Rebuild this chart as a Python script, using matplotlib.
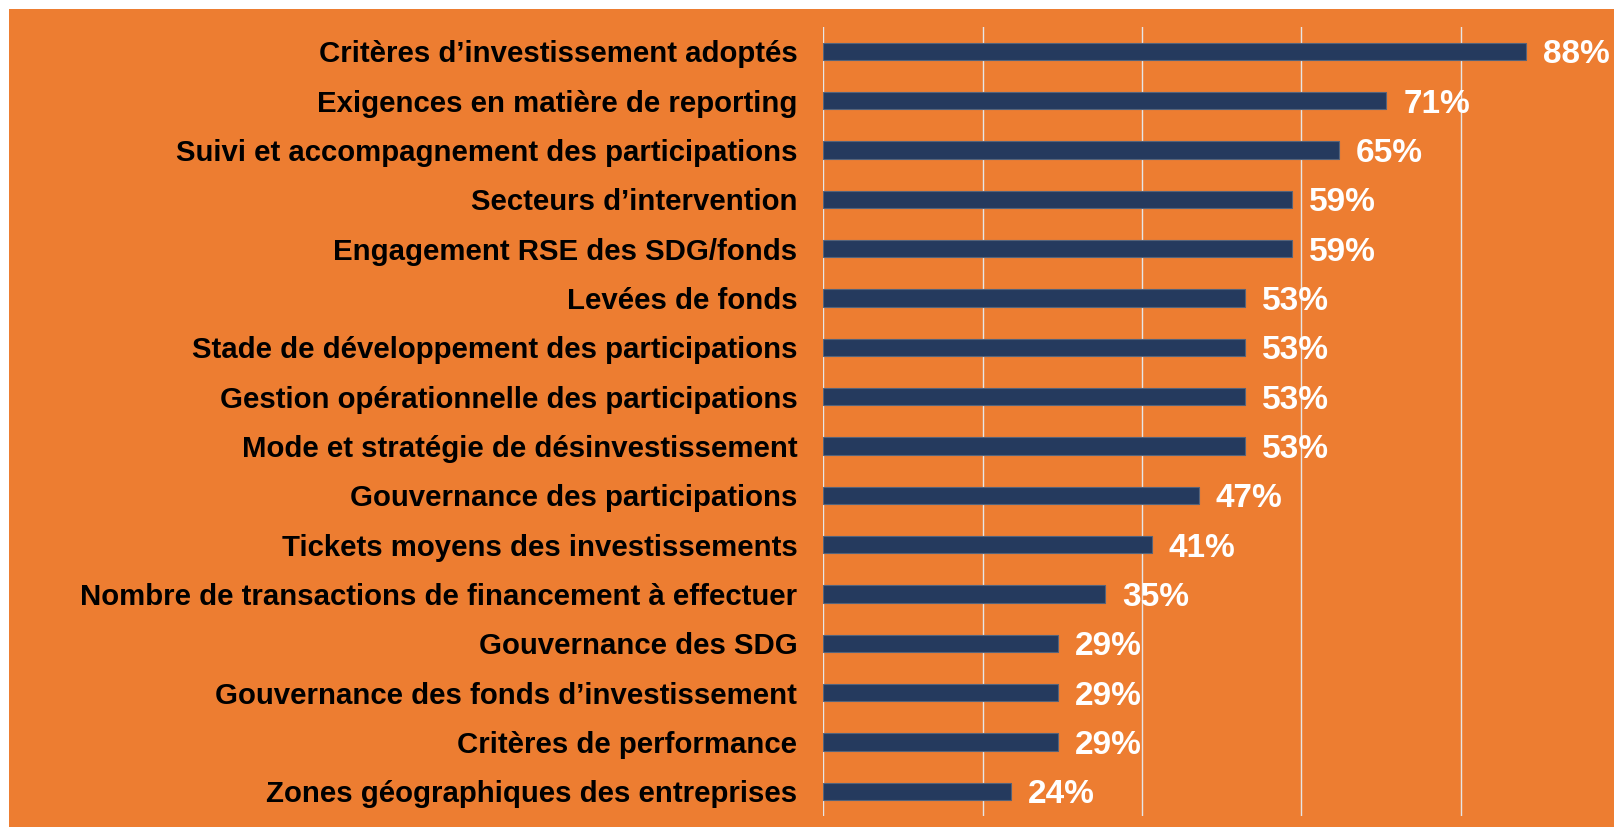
import matplotlib
matplotlib.use("Agg")
import matplotlib.pyplot as plt
from matplotlib.patches import Rectangle

# share of respondents (n = 17), top to bottom as shown
categories = [
    "Critères d\u2019investissement adoptés",
    "Exigences en matière de reporting",
    "Suivi et accompagnement des participations",
    "Secteurs d\u2019intervention",
    "Engagement RSE des SDG/fonds",
    "Levées de fonds",
    "Stade de développement des participations",
    "Gestion opérationnelle des participations",
    "Mode et stratégie de désinvestissement",
    "Gouvernance des participations",
    "Tickets moyens des investissements",
    "Nombre de transactions de financement à effectuer",
    "Gouvernance des SDG",
    "Gouvernance des fonds d\u2019investissement",
    "Critères de performance",
    "Zones géographiques des entreprises",
]
values = [88.2, 70.6, 64.7, 58.8, 58.8, 52.9, 52.9, 52.9, 52.9,
          47.1, 41.2, 35.3, 29.4, 29.4, 29.4, 23.5]
xticks = [0, 20, 40, 60, 80, 100]

ORANGE = "#ED7D31"
NAVY = "#253A5E"

plt.rcParams["font.family"] = ["Liberation Sans", "DejaVu Sans"]

W, H = 1615, 827
fig = plt.figure(figsize=(W / 100, H / 100), dpi=100)
fig.patch.set_facecolor("white")
fig.patches.append(Rectangle((9 / W, 0), 1 - 9 / W, 1 - 9 / H,
                             transform=fig.transFigure, facecolor=ORANGE,
                             edgecolor="none", zorder=-10))

left = 823.3 / W
right = 1620.0 / W
top = 1 - 26.7 / H
bottom = 1 - 816 / H
ax = fig.add_axes([left, bottom, right - left, top - bottom])
ax.set_facecolor("none")

y = list(range(len(categories)))
ax.barh(y, values, height=0.35, color=NAVY, edgecolor="#55637a",
        linewidth=0.8, zorder=3)

for yi, v in zip(y, values):
    ax.annotate(f"{round(v)}%", (v, yi), xytext=(12.5, -2.5),
                textcoords="offset points", va="center", ha="left",
                color="white", fontsize=24, fontweight="bold", zorder=4)

ax.set_xlim(0, 100)
ax.set_ylim(len(categories) - 0.5, -0.5)
ax.set_xticks(xticks)
ax.set_xticklabels([])
ax.tick_params(axis="x", length=0)
ax.set_yticks(y)
ax.set_yticklabels(categories, fontsize=21.2, fontweight="bold", color="black")
ax.tick_params(axis="y", length=0, pad=18.7)
ax.grid(axis="x", color="#E6E6E6", linewidth=1.0, zorder=1)
for s in ax.spines.values():
    s.set_visible(False)

fig.savefig("out.png", dpi=100, facecolor=fig.get_facecolor())
